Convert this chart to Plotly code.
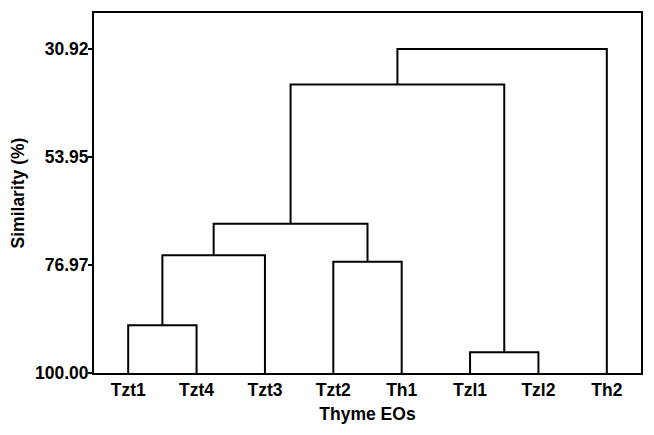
import plotly.graph_objects as go

# leaves in plotted order
leaves = ["Tzt1", "Tzt4", "Tzt3", "Tzt2", "Th1", "Tzl1", "Tzl2", "Th2"]

# linkage: cluster ids 0-7 are leaves, each merge creates id 8, 9, ...
merge_a = [0, 8, 3, 9, 5, 11, 13]
merge_b = [1, 2, 4, 10, 6, 12, 7]
merge_sim = [89.8, 74.9, 76.3, 68.2, 95.6, 38.5, 30.92]

y_ticks = [30.92, 53.95, 76.97, 100.00]

# positions of every cluster
pos_x = {i: i + 1 for i in range(len(leaves))}
pos_y = {i: 100.0 for i in range(len(leaves))}

fig = go.Figure()
for k, (a, b, h) in enumerate(zip(merge_a, merge_b, merge_sim)):
    new_id = len(leaves) + k
    fig.add_trace(go.Scatter(
        x=[pos_x[a], pos_x[a], pos_x[b], pos_x[b]],
        y=[pos_y[a], h, h, pos_y[b]],
        mode="lines",
        line=dict(color="black", width=2),
        hoverinfo="skip",
        showlegend=False,
    ))
    pos_x[new_id] = (pos_x[a] + pos_x[b]) / 2
    pos_y[new_id] = h

font = dict(family="Liberation Sans, Arial, sans-serif", color="black")

# the page body adds an 8px offset, margins are compensated for it
fig.update_layout(
    width=654,
    height=435,
    margin=dict(l=86, r=21, t=5, b=70),
    plot_bgcolor="white",
    paper_bgcolor="white",
    showlegend=False,
    font=font,
)
fig.update_xaxes(
    range=[0.5, 8.5],
    automargin=False,
    tickvals=list(range(1, len(leaves) + 1)),
    ticktext=["<b>%s</b>" % s for s in leaves],
    tickfont=dict(size=17.5),
    ticks="",
    showgrid=False,
    zeroline=False,
    showline=True,
    mirror=True,
    linecolor="black",
    linewidth=2,
    title=dict(text="<b>Thyme EOs</b>", font=dict(size=17.5), standoff=9),
)
fig.update_yaxes(
    range=[100, 23.25],
    automargin=False,
    tickvals=y_ticks,
    ticktext=["<b>%.2f</b>" % v for v in y_ticks],
    tickfont=dict(size=17.5),
    ticks="outside",
    ticklen=4,
    tickwidth=1.5,
    tickcolor="black",
    ticklabelstandoff=-4,
    showgrid=False,
    zeroline=False,
    showline=True,
    mirror=True,
    linecolor="black",
    linewidth=2,
    title=dict(text="<b>Similarity (%)</b>", font=dict(size=17.5), standoff=8),
)

fig.write_html("out.html")
